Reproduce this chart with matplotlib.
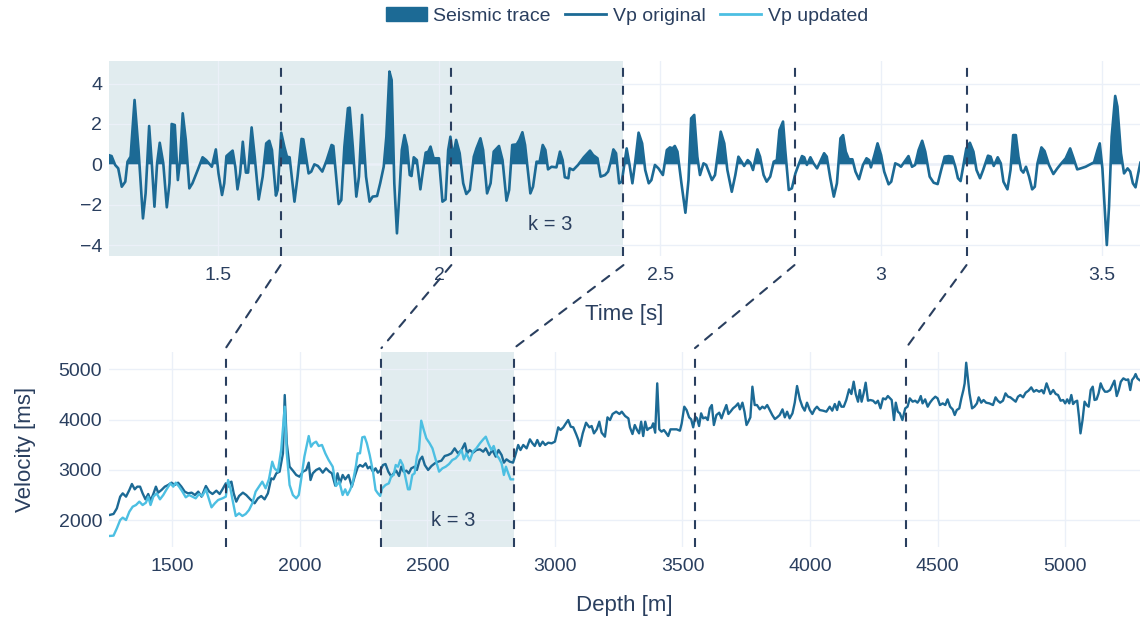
import matplotlib.pyplot as plt
from matplotlib.patches import Patch, ConnectionPatch
from matplotlib.lines import Line2D
import numpy as np

plt.rcParams['font.family'] = ['Liberation Sans', 'DejaVu Sans']

# seismic trace (time in s, amplitude)
trace_time = [
    1.251, 1.258, 1.266, 1.273, 1.281, 1.289, 1.294, 1.301, 1.310, 1.319,
    1.329, 1.335, 1.343, 1.349, 1.355, 1.361, 1.367, 1.375, 1.383, 1.389,
    1.394, 1.401, 1.408, 1.413, 1.419, 1.426, 1.434, 1.441, 1.453, 1.464,
    1.472, 1.485, 1.494, 1.500, 1.508, 1.513, 1.518, 1.532, 1.538, 1.543,
    1.549, 1.555, 1.562, 1.567, 1.575, 1.582, 1.591, 1.600, 1.608, 1.615,
    1.621, 1.630, 1.634, 1.642, 1.649, 1.655, 1.661, 1.672, 1.679, 1.688,
    1.692, 1.704, 1.710, 1.717, 1.725, 1.735, 1.745, 1.756, 1.760, 1.772,
    1.778, 1.785, 1.793, 1.797, 1.804, 1.812, 1.818, 1.825,
    1.834, 1.842, 1.849, 1.859, 1.866, 1.874, 1.880, 1.887, 1.892, 1.898,
    1.904, 1.910, 1.915, 1.921, 1.927, 1.933, 1.937, 1.942, 1.949, 1.957,
    1.963, 1.969, 1.975, 1.980, 1.987, 1.999, 2.007, 2.014, 2.020, 2.025,
    2.031, 2.038, 2.046, 2.054, 2.061, 2.069, 2.078, 2.084, 2.093, 2.099,
    2.108, 2.116, 2.123, 2.135, 2.143, 2.152, 2.158, 2.165, 2.175, 2.181,
    2.188, 2.194, 2.206, 2.212, 2.220, 2.227, 2.234, 2.240, 2.246, 2.254,
    2.265, 2.273, 2.279, 2.284, 2.292, 2.295, 2.303, 2.314, 2.327, 2.341,
    2.348, 2.358, 2.365, 2.375, 2.382, 2.388, 2.394, 2.400, 2.407, 2.413,
    2.424, 2.430, 2.437, 2.443, 2.451, 2.459, 2.466, 2.474, 2.480, 2.488,
    2.496, 2.506, 2.515, 2.522, 2.528, 2.533, 2.539, 2.548, 2.557, 2.564,
    2.570, 2.577, 2.584, 2.590, 2.598, 2.604, 2.617, 2.624, 2.637, 2.645,
    2.652, 2.662, 2.670, 2.677, 2.682, 2.690, 2.698, 2.704, 2.710, 2.720,
    2.726, 2.734, 2.741, 2.749, 2.757, 2.764, 2.770, 2.778, 2.783, 2.791,
    2.798, 2.806, 2.813, 2.821, 2.826, 2.832, 2.840, 2.847, 2.855, 2.862,
    2.871, 2.877, 2.885, 2.893, 2.900, 2.908, 2.914, 2.920, 2.927, 2.935,
    2.942, 2.950, 2.959, 2.967, 2.973, 2.977, 2.985, 2.992, 3.000,
    3.007, 3.017, 3.023, 3.032, 3.040, 3.045, 3.053, 3.062, 3.070, 3.077,
    3.085, 3.093, 3.100, 3.110, 3.119, 3.128, 3.136, 3.144, 3.153, 3.161,
    3.168, 3.174, 3.180, 3.187, 3.193, 3.201, 3.209, 3.216, 3.224, 3.231,
    3.242, 3.248, 3.255, 3.264, 3.271, 3.277, 3.286, 3.293, 3.299, 3.305,
    3.311, 3.317, 3.322, 3.328, 3.335, 3.342, 3.348, 3.354, 3.363, 3.370,
    3.380, 3.390, 3.399, 3.407, 3.418, 3.428, 3.435, 3.444, 3.452, 3.463,
    3.475, 3.482, 3.490, 3.495, 3.501, 3.506, 3.511, 3.516, 3.522, 3.530,
    3.535, 3.543, 3.550, 3.558, 3.564, 3.570, 3.576, 3.582, 3.587,
]
trace_amp = [
    0.46, 0.41, -0.03, -0.20, -1.11, -0.86, 0.13, 0.38, 3.19, 0.71,
    -2.68, -1.44, 1.90, 0.05, -2.10, 0.05, 1.07, 0.05, -2.13, -0.94,
    2.00, 1.95, -0.78, 0.21, 2.53, 1.21, -1.19, -0.94, -0.28, 0.35,
    0.21, -0.12, 0.74, -0.45, -1.52, -0.94, 0.41, 0.68, -0.12, -1.24,
    -0.45, 1.12, -0.41, -0.41, 1.83, 0.38, -1.74, -0.61, 1.04, 1.17,
    0.71, -1.55, -1.27, 1.57, 0.88, 0.38, 0.35, -1.85, -0.61, 1.26,
    1.24, -0.45, -0.36, 0.00, -0.08, -0.36, 0.21, 0.96, 0.91, -1.97,
    -1.77, 0.88, 2.78, 2.81, 0.88, -1.60, -0.61, 2.45,
    -0.61, -1.85, -1.60, -1.57, -0.94, -0.12, 1.37, 4.60, 4.18, -0.94,
    -3.42, -1.27, 0.71, 1.45, 0.88, -0.53, -0.58, 0.35, 0.21, -1.24,
    -0.28, 0.58, 0.63, 0.88, 0.30, 0.30, -1.85, -1.74, 0.71, 1.37,
    0.38, 1.21, 0.55, -0.94, -1.47, -1.27, 0.38, 0.79, 1.29, 0.71,
    -1.44, -0.94, 0.63, 0.91, 0.21, -1.80, -1.27, 0.96, 0.99, 1.21,
    1.59, 0.96, -1.44, -1.11, 0.13, 0.13, 0.96, 0.71, -0.25, -0.12,
    -0.15, 0.63, 0.21, -0.64, -0.69, -0.20, -0.28, -0.03, 0.35, 0.68,
    0.46, 0.30, -0.61, -0.53, -0.36, 0.13, 0.74, 0.55, -0.94, -0.86,
    0.79, 0.05, -0.94, 0.05, 1.57, 1.04, -0.28, -0.94, -0.78, -0.03,
    -0.20, -0.53, 0.71, 0.84, 0.79, 0.91, 0.63, -0.94, -2.40, -0.78,
    2.28, 2.45, 0.38, -0.53, 0.05, -0.03, -0.78, -0.53, 1.62, 1.04,
    -0.28, -1.36, -0.53, 0.38, 0.21, -0.08, 0.21, 0.08, -0.28, 0.74,
    0.38, -0.53, -0.86, -0.61, 0.13, 0.21, 1.70, 2.12, 0.71, -1.27,
    -1.19, -0.45, -0.03, 0.41, 0.35, -0.03, 0.35, 0.05, -0.20, 0.13,
    0.55, 0.38, -0.69, -1.60, -0.94, 1.29, 1.45, 0.63, 0.25, 0.25,
    -0.36, -0.74, -0.03, 0.30, 0.21, -0.15, 0.46, 1.04, 0.46,
    -0.36, -0.99, -0.86, 0.05, -0.03, -0.12, 0.13, 0.41, -0.12, -0.03,
    0.71, 1.17, 0.63, -0.61, -0.91, -0.98, -0.28, 0.38, 0.41, 0.38,
    -0.12, -0.69, -0.83, 0.05, 0.79, 1.07, 0.63, -0.28, -0.69, -0.28,
    0.43, 0.38, -0.08, 0.35, 0.05, -0.86, -1.24, -0.28, 1.45, 1.45,
    0.38, -0.28, -0.41, -0.12, -0.61, -1.24, -1.11, 0.05, 0.84, 0.66,
    -0.03, -0.48, -0.20, 0.02, 0.30, 0.79, 0.35, -0.25, -0.20, -0.12,
    0.02, 0.10, 0.71, 1.04, -0.20, -2.10, -4.00, -2.10, 1.37, 3.39,
    2.86, 0.55, -0.45, -0.20, -0.36, -0.94, -1.14, -0.45, 0.08,
]

# Vp original (depth in m, velocity)
orig_depth = [
    1254, 1270, 1283, 1296, 1306, 1319, 1332, 1342, 1353, 1363,
    1374, 1384, 1395, 1406, 1415, 1426, 1436, 1445, 1458, 1471,
    1484, 1497, 1510, 1523, 1536, 1549, 1562, 1576, 1589, 1602,
    1615, 1632, 1645, 1658, 1673, 1686, 1697, 1710, 1719, 1725,
    1732, 1741, 1751, 1762, 1777, 1790, 1806, 1823, 1836, 1849,
    1862, 1875, 1888, 1897, 1908, 1921, 1934, 1941, 1949, 1960,
    1973, 1986, 1999, 2012, 2025, 2035, 2042, 2051, 2064, 2077,
    2090, 2103, 2116, 2126, 2139, 2148, 2158, 2168, 2178, 2191,
    2204, 2215, 2227, 2236,
    2247, 2258, 2267, 2276, 2287, 2297, 2306, 2315, 2326, 2336,
    2347, 2359, 2368, 2378, 2389, 2398, 2407, 2418, 2427, 2437,
    2450, 2459, 2470, 2480, 2490, 2503, 2516, 2529, 2542, 2555,
    2568, 2581, 2594, 2607, 2620, 2634, 2647, 2656, 2666, 2679,
    2692, 2706, 2719, 2729, 2742, 2755, 2768, 2779, 2791, 2800,
    2810, 2823, 2836, 2847, 2856, 2865, 2876, 2889, 2902, 2912,
    2921, 2931, 2941, 2952, 2962, 2974, 2987, 3000, 3013, 3022,
    3033, 3043, 3052, 3062, 3072, 3083, 3092, 3098, 3109, 3122,
    3135, 3144, 3153, 3164, 3174, 3183, 3196, 3206, 3216, 3226,
    3240, 3253, 3262, 3275, 3288,
    3294, 3304, 3313, 3322, 3330, 3338, 3346, 3354, 3362, 3369,
    3379, 3385, 3393, 3401, 3409, 3418, 3427, 3435, 3444, 3453,
    3463, 3477, 3490, 3497, 3507, 3516, 3526, 3534, 3542, 3550,
    3557, 3565, 3573, 3581, 3591, 3599, 3607, 3615, 3623, 3633,
    3644, 3653, 3662, 3672, 3680, 3688, 3698, 3709, 3718, 3725,
    3735, 3743, 3751, 3758, 3766, 3774, 3783, 3792, 3803, 3813,
    3822, 3832, 3842, 3852, 3862, 3871, 3881, 3892, 3901, 3910,
    3920, 3931, 3940, 3949, 3960, 3970, 3979, 3988, 3999, 4009,
    4018, 4027, 4038, 4051, 4064, 4077, 4087, 4097, 4106, 4114,
    4123, 4132, 4142, 4153, 4162, 4171, 4179, 4188, 4195, 4202,
    4210, 4218, 4227, 4236, 4247, 4257, 4266, 4276, 4286, 4296,
    4305,
    4320, 4329, 4336, 4344, 4352, 4362, 4373, 4382, 4391, 4402,
    4412, 4421, 4428, 4434, 4441, 4451, 4461, 4470, 4480, 4491,
    4500, 4509, 4520, 4530, 4539, 4549, 4559, 4567, 4575, 4585,
    4593, 4601, 4606, 4612, 4618, 4625, 4635, 4644, 4654, 4661,
    4671, 4680, 4690, 4703, 4717, 4727, 4736, 4745, 4756, 4766,
    4776, 4785, 4795, 4806, 4815, 4824, 4835, 4845, 4856, 4867,
    4877, 4887, 4898, 4908, 4916, 4927, 4934, 4942, 4953, 4963,
    4972, 4982, 4992, 5000, 5008, 5016, 5024, 5031, 5039, 5047,
    5054, 5060, 5068, 5076, 5084, 5092, 5100, 5108, 5115, 5123,
    5131, 5139, 5147, 5156, 5165, 5176, 5185, 5193, 5202, 5210,
    5218, 5228, 5239, 5247, 5255, 5262, 5270, 5276, 5283, 5291,
]
orig_vp = [
    2106, 2126, 2238, 2470, 2536, 2470, 2603, 2722, 2616, 2669,
    2669, 2536, 2417, 2523, 2391, 2523, 2669, 2550, 2603, 2669,
    2702, 2748, 2702, 2748, 2669, 2570, 2536, 2550, 2503, 2570,
    2470, 2682, 2570, 2523, 2589, 2523, 2616, 2735, 2669, 2748,
    2768, 2536, 2371, 2483, 2550, 2503, 2417, 2338, 2437, 2483,
    2417, 2536, 2834, 2814, 2934, 2967, 3331, 4490, 3530, 3066,
    2987, 2901, 2867, 2967, 3000, 3146, 2801, 2934, 3000, 3033,
    2947, 3033, 2967, 2934, 2689, 2934, 2735, 2901, 2814, 2901,
    2669, 2867, 3053, 3099,
    3066, 3132, 3033, 3066, 2967, 3033, 2947, 2987, 3099, 3119,
    2967, 2867, 2934, 2987, 2881, 3066, 2967, 2987, 2934, 3033,
    3066, 3000, 3199, 3265, 3099, 3000, 3079, 3132, 3165, 3185,
    3278, 3298, 3331, 3430, 3331, 3397, 3530, 3331, 3397, 3344,
    3397, 3410, 3364, 3430, 3298, 3397, 3265, 3397, 3298, 3146,
    3212, 3165, 3146, 3331, 3497, 3397, 3497, 3430, 3609, 3530,
    3477, 3596, 3477, 3563, 3497, 3543, 3530, 3563, 3848, 3795,
    3848, 3927, 3993, 3861, 3848, 3715, 3596, 3477, 3728, 3940,
    3848, 3874, 3728, 3808, 3960, 3742, 3662, 4046, 3993, 4113,
    4159, 4113, 4159, 4073, 4026,
    3848, 3715, 3894, 3795, 3728, 3960, 3675, 3960, 3795, 3828,
    3848, 3927, 3742, 4722, 3808, 3762, 3795, 3742, 3675, 3808,
    3808, 3808, 3781, 3927, 4258, 4192, 4046, 4007, 3848, 4060,
    4026, 3874, 4126, 4026, 4046, 3993, 4225, 4291, 3894, 4093,
    4139, 4026, 4159, 4291, 4113, 4159, 4225, 4271, 4324, 4205,
    4338, 4159, 3894, 3960, 4046, 4656, 4291, 4291, 4205, 4258,
    4225, 4291, 4192, 4093, 4013, 4046, 4093, 4205, 4046, 4159,
    4026, 4126, 4338, 4669, 4404, 4258, 4179, 4338, 4192, 4113,
    4205, 4258, 4192, 4179, 4159, 4258, 4179, 4311, 4192, 4358,
    4258, 4258, 4391, 4603, 4510, 4755, 4510, 4358, 4589, 4358,
    4523, 4735, 4377, 4391, 4377, 4324, 4377, 4225, 4424, 4404,
    4470,
    4391, 3993, 4338, 4159, 4126, 3993, 4225, 4258, 4424, 4358,
    4377, 4338, 4391, 4470, 4324, 4404, 4258, 4338, 4404, 4457,
    4424, 4291, 4324, 4291, 4404, 4258, 4205, 4093, 4192, 4225,
    4424, 4589, 4722, 5132, 4854, 4523, 4225, 4258, 4324, 4444,
    4338, 4391, 4338, 4324, 4291, 4444, 4377, 4338, 4377, 4523,
    4457, 4444, 4404, 4358, 4457, 4490, 4444, 4536, 4576, 4642,
    4556, 4589, 4556, 4589, 4523, 4722, 4622, 4510, 4589, 4510,
    4490, 4377, 4391, 4324, 4404, 4324, 4490, 4311, 4358, 4377,
    4060, 3728, 3993, 4358, 4291, 4258, 4589, 4656, 4391, 4404,
    4523, 4722, 4622, 4556, 4556, 4589, 4689, 4775, 4470, 4589,
    4755, 4821, 4788, 4801, 4589, 4788, 4841, 4907, 4821, 4788,
]

# Vp updated (only over the first window)
upd_depth = [
    1254, 1270, 1283, 1296, 1306, 1319, 1332, 1345, 1358, 1371,
    1384, 1397, 1406, 1415, 1426, 1439, 1452, 1465, 1478, 1493,
    1504, 1514, 1527, 1540, 1553, 1566, 1579, 1592, 1605, 1618,
    1632, 1641, 1654, 1667, 1680, 1697, 1710, 1719, 1728, 1736,
    1749, 1762, 1775, 1788, 1801, 1814, 1827, 1840, 1853, 1866,
    1879, 1892, 1901, 1914, 1927, 1941, 1949, 1960, 1973, 1986,
    1996, 2005, 2018, 2035, 2044, 2053, 2064, 2074, 2087, 2100,
    2113, 2129, 2142, 2155, 2168, 2178, 2187, 2197, 2207, 2220,
    2227, 2236,
    2245, 2254, 2263, 2274, 2287, 2297, 2306, 2315, 2323, 2336,
    2349, 2359, 2368, 2376, 2385, 2394, 2404, 2415, 2424, 2431,
    2441, 2450, 2459, 2467, 2476, 2486, 2496, 2509, 2520, 2533,
    2546, 2559, 2572, 2585, 2598, 2611, 2622, 2634, 2643, 2653,
    2666, 2679, 2692, 2706, 2719, 2729, 2740, 2751, 2760, 2771,
    2781, 2791, 2800, 2808, 2817, 2826, 2836,
]
upd_vp = [
    1689, 1695, 1841, 2006, 2053, 2006, 2172, 2271, 2304, 2371,
    2304, 2351, 2470, 2304, 2470, 2536, 2417, 2503, 2616, 2735,
    2669, 2748, 2669, 2570, 2457, 2503, 2470, 2437, 2523, 2483,
    2616, 2470, 2258, 2338, 2404, 2437, 2470, 2801, 2636, 2417,
    2086, 2139, 2086, 2126, 2205, 2338, 2570, 2669, 2768, 2636,
    2814, 3165, 3033, 2967, 3397, 4258, 3331, 2702, 2503, 2437,
    2503, 2801, 3265, 3675, 3463, 3530, 3563, 3477, 3497, 3331,
    3199, 3066, 2682, 2768, 2503, 2616, 2503, 2603, 2735, 3079,
    3331, 3331,
    3649, 3662, 3530, 3298, 2967, 2603, 2536, 2483, 2636, 2702,
    2735, 2881, 2901, 3099, 3066, 3199, 3099, 2834, 2616, 2616,
    2901, 2934, 3265, 3397, 3980, 3795, 3629, 3530, 3430, 3199,
    2967, 3033, 3066, 3119, 3199, 3232, 3298, 3397, 3212, 3331,
    3185, 3364, 3430, 3530, 3609, 3662, 3516, 3397, 3477, 3298,
    3232, 3132, 2901, 3066, 2934, 2814, 2814,
]

# window boundaries
win_time = [1.6406, 2.0272, 2.4168, 2.8040, 3.1934]
win_depth = [1710, 2320, 2840, 3549, 4376]
k_label = "k = 3"

dark = '#1c6a95'
light = '#4cbfe2'
shade = '#e1ecef'
ink = '#2a3f5f'
grid = '#ebf0f8'

fig = plt.figure(figsize=(11.42, 6.21), dpi=100)
ax1 = fig.add_axes([0.0954, 0.5882, 0.9028, 0.3135])
ax2 = fig.add_axes([0.0954, 0.1196, 0.9028, 0.3130])

for ax in (ax1, ax2):
    for s in ax.spines.values():
        s.set_visible(False)
    ax.set_axisbelow(True)
    ax.grid(True, color=grid, lw=1)
    ax.tick_params(length=0, labelsize=14, colors=ink)

# top: seismic trace
amp = np.array(trace_amp)
ax1.axvspan(1.0, win_time[2], color=shade, lw=0, zorder=0.1)
ax1.axhline(0, color=grid, lw=1.8, zorder=0.6)
ax1.fill_between(trace_time, 0, amp, where=amp >= 0, interpolate=True,
                 color=dark, lw=0, zorder=2)
ax1.plot(trace_time, amp, color=dark, lw=1.9, zorder=3)
for t in win_time:
    ax1.axvline(t, color=ink, lw=1.5, ls=(0, (4.3, 4.3)), zorder=4)
ax1.text(2.252, -3.0, k_label, ha='center', va='center', fontsize=14.5, color=ink)
ax1.set_xlim(1.252, 3.586)
ax1.set_ylim(-4.53, 5.12)
ax1.set_xticks([1.5, 2, 2.5, 3, 3.5])
ax1.set_xticklabels(['1.5', '2', '2.5', '3', '3.5'])
ax1.set_yticks([-4, -2, 0, 2, 4])
ax1.tick_params(axis='x', pad=8)
ax1.tick_params(axis='y', pad=5)
ax1.set_xlabel('Time [s]', fontsize=16, color=ink)
ax1.xaxis.set_label_coords(0.5, -0.30)
ax1.xaxis.label.set_va('center')

# bottom: velocity
ax2.axvspan(win_depth[1], win_depth[2], color=shade, lw=0, zorder=0.1)
ax2.plot(orig_depth, orig_vp, color=dark, lw=1.7, zorder=3)
ax2.plot(upd_depth, upd_vp, color=light, lw=1.7, zorder=3.5)
for d in win_depth:
    ax2.axvline(d, color=ink, lw=1.5, ls=(0, (4.3, 4.3)), zorder=4)
ax2.text(2602, 2000, k_label, ha='center', va='center', fontsize=14.5, color=ink)
ax2.set_xlim(1252, 5293)
ax2.set_ylim(1475, 5338)
ax2.set_xticks([1500, 2000, 2500, 3000, 3500, 4000, 4500, 5000])
ax2.set_yticks([2000, 3000, 4000, 5000])
ax2.tick_params(axis='x', pad=8)
ax2.tick_params(axis='y', pad=5)
ax2.set_xlabel('Depth [m]', fontsize=16, color=ink)
ax2.xaxis.set_label_coords(0.5, -0.30)
ax2.xaxis.label.set_va('center')
ax2.set_ylabel('Velocity [ms]', fontsize=16, color=ink)
ax2.yaxis.set_label_coords(-0.081, 0.5)
ax2.yaxis.label.set_va('center')

# connectors between the two panels
for t, d in zip(win_time, win_depth):
    con = ConnectionPatch(xyA=(t, -0.048), coordsA=ax1.get_xaxis_transform(),
                          xyB=(d, 1.022), coordsB=ax2.get_xaxis_transform(),
                          color=ink, lw=1.5, ls=(0, (4.3, 4.3)))
    fig.add_artist(con)

handles = [Patch(facecolor=dark, edgecolor=dark, label='Seismic trace'),
           Line2D([], [], color=dark, lw=2, label='Vp original'),
           Line2D([], [], color=light, lw=2, label='Vp updated')]
leg = fig.legend(handles=handles, loc='center', bbox_to_anchor=(627 / 1142, 1 - 16 / 621),
                 ncol=3, frameon=False, fontsize=14, handlelength=2.1,
                 handletextpad=0.35, columnspacing=0.75)
for txt in leg.get_texts():
    txt.set_color(ink)

fig.savefig('out.png', dpi=100)
